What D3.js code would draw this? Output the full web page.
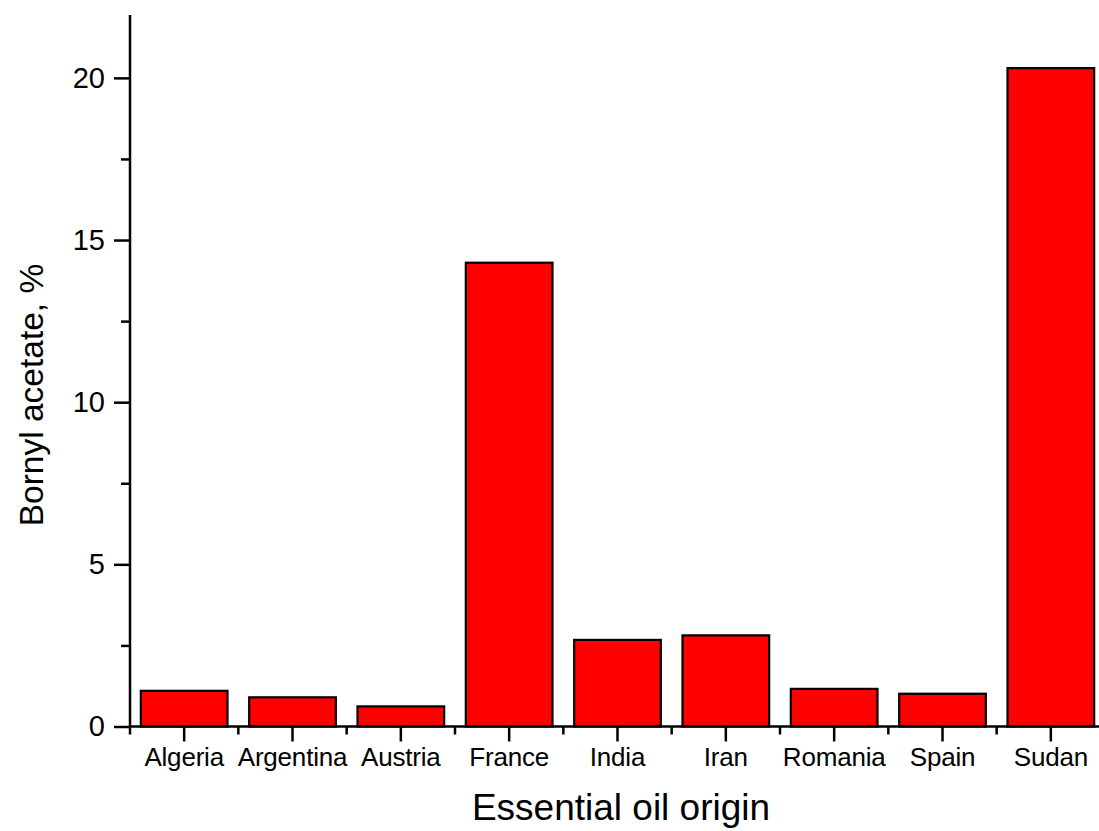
<!DOCTYPE html>
<html>
<head>
<meta charset="utf-8">
<script src="https://cdn.jsdelivr.net/npm/d3@7"></script>
<style>
  html, body { margin: 0; padding: 0; background: #fff; }
  svg { display: block; font-family: Arial, "Liberation Sans", sans-serif; }
</style>
</head>
<body>
<svg id="chart" width="1099" height="831"></svg>
<script>
// Bornyl acetate content by essential oil origin
const origins = ["Algeria", "Argentina", "Austria", "France", "India", "Iran", "Romania", "Spain", "Sudan"];
const bornylAcetate = [1.1, 0.9, 0.62, 14.3, 2.67, 2.81, 1.16, 1.01, 20.3];
const yTicks = [0, 5, 10, 15, 20];
const yMinorTicks = [2.5, 7.5, 12.5, 17.5];

const svg = d3.select("#chart");

const x = d3.scaleBand()
  .domain(origins)
  .range([130, 1105])
  .paddingInner(0.2)
  .paddingOuter(0.1);

const y = d3.scaleLinear()
  .domain([0, 22])
  .range([726.5, 13]);

// bars
svg.append("g")
  .selectAll("rect")
  .data(origins.map((o, i) => ({ origin: o, value: bornylAcetate[i] })))
  .join("rect")
  .attr("x", d => x(d.origin))
  .attr("y", d => y(d.value))
  .attr("width", x.bandwidth())
  .attr("height", d => y(0) - y(d.value))
  .attr("fill", "#ff0000")
  .attr("stroke", "#000")
  .attr("stroke-width", 2.2);

// y axis
const yAxis = svg.append("g").attr("transform", "translate(130,0)");
yAxis.call(d3.axisLeft(y).tickValues(yTicks).tickSize(16).tickPadding(9).tickFormat(d3.format("d")));
yAxis.append("g").call(d3.axisLeft(y).tickValues(yMinorTicks).tickSize(9).tickFormat(""))
  .select(".domain").remove();
yAxis.selectAll(".domain").attr("d", `M0,${y(0)}V${y.range()[1] + 2}`);

// x axis
const step = x.step();
const boundaries = d3.range(origins.length).map(i => x(origins[i]) - (step - x.bandwidth()) / 2);
const xAxis = svg.append("g").attr("transform", `translate(0,${y(0)})`);
xAxis.call(d3.axisBottom(x).tickSize(15).tickPadding(6));
xAxis.select(".domain").attr("d", `M130,0H1099`);
xAxis.selectAll(".minor")
  .data(boundaries)
  .join("line")
  .attr("class", "minor")
  .attr("x1", d => d).attr("x2", d => d)
  .attr("y1", 0).attr("y2", 8)
  .attr("stroke", "#000");

svg.selectAll(".domain, .tick line").attr("stroke", "#000").attr("stroke-width", 2.5);
xAxis.selectAll(".minor").attr("stroke-width", 2.5);

yAxis.selectAll(".tick text")
  .attr("font-size", 29)
  .attr("fill", "#000")
  .attr("font-family", "Arial, 'Liberation Sans', sans-serif");
xAxis.selectAll(".tick text")
  .attr("font-size", 26)
  .attr("fill", "#000")
  .attr("letter-spacing", -0.2)
  .attr("font-family", "Arial, 'Liberation Sans', sans-serif");

// axis titles
svg.append("text")
  .attr("x", 621)
  .attr("y", 820)
  .attr("text-anchor", "middle")
  .attr("font-size", 37)
  .attr("fill", "#000")
  .text("Essential oil origin");

svg.append("text")
  .attr("transform", "translate(43,395) rotate(-90)")
  .attr("text-anchor", "middle")
  .attr("font-size", 33.5)
  .attr("fill", "#000")
  .text("Bornyl acetate, %");
</script>
</body>
</html>
